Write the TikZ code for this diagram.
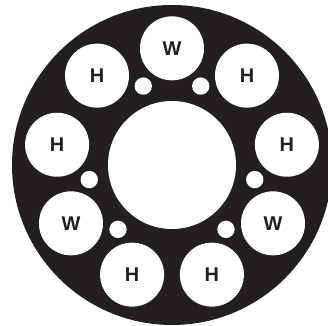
\documentclass[tikz,border=0pt]{standalone}
\usepackage{fontspec}
\setmainfont{Liberation Sans}
\definecolor{ink}{RGB}{35,31,32}
\tikzset{
  hole/.style={
    circle,
    fill=white,
    inner sep=0pt,
    minimum size=1.92cm,
    text=ink,
    font=\fontsize{17}{17}\selectfont\bfseries
  },
  pinhole/.style={
    circle,
    fill=white,
    inner sep=0pt,
    minimum size=0.52cm
  }
}

\begin{document}
\begin{tikzpicture}
    \useasboundingbox (-5.16,-4.8) rectangle (4.68,4.95);
    \clip (-5.16,-4.8) rectangle (4.68,4.95);

    % 外側の円板
    \fill[ink] (0,0) circle (4.8);
    \node[circle,fill=white,inner sep=0pt,minimum size=3.84cm] (core) at (0,0) {};

    % 周りの穴 (W と H)
    \node[hole] (W1) at (90:3.5) {W};
    \node[hole] (H1) at (130:3.5) {H};
    \node[hole] (H2) at (170:3.5) {H};
    \node[hole] (W2) at (210:3.5) {W};
    \node[hole] (H3) at (250:3.5) {H};
    \node[hole] (H4) at (290:3.5) {H};
    \node[hole] (W3) at (330:3.5) {W};
    \node[hole] (H5) at (10:3.5) {H};
    \node[hole] (H6) at (50:3.5) {H};

    % 小さい穴
    \node[pinhole] (p1) at (70:2.52) {};
    \node[pinhole] (p2) at (110:2.52) {};
    \node[pinhole] (p3) at (190:2.52) {};
    \node[pinhole] (p4) at (230:2.52) {};
    \node[pinhole] (p5) at (310:2.52) {};
    \node[pinhole] (p6) at (350:2.52) {};
\end{tikzpicture}
\end{document}
